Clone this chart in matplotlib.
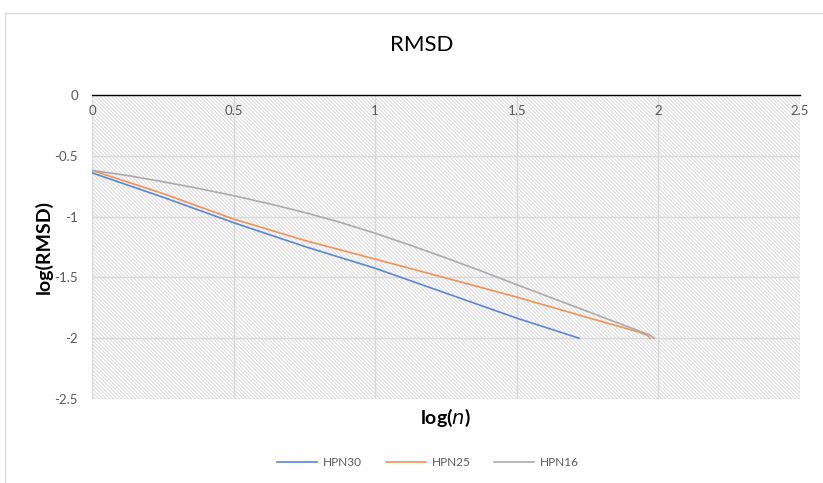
import matplotlib
matplotlib.use("Agg")
import matplotlib.pyplot as plt
from matplotlib.patches import Rectangle
from matplotlib.lines import Line2D

plt.rcParams['font.family'] = ['Lato', 'DejaVu Sans']

# Data
hpn30_x = [0.0, 0.25, 0.5, 0.75, 1.0, 1.25, 1.5, 1.72]
hpn30_y = [-0.64, -0.84, -1.05, -1.245, -1.425, -1.63, -1.835, -2.0]

hpn25_x = [0.0, 0.25, 0.5, 0.75, 1.0, 1.25, 1.5, 1.75, 1.935, 1.963, 1.97]
hpn25_y = [-0.62, -0.81, -1.02, -1.195, -1.35, -1.505, -1.662, -1.83, -1.952, -1.98, -2.0]

hpn16_x = [0.0, 0.125, 0.25, 0.375, 0.5, 0.625, 0.75, 0.875, 1.0, 1.125, 1.25,
           1.375, 1.5, 1.75, 1.97, 1.985]
hpn16_y = [-0.62, -0.662, -0.713, -0.768, -0.828, -0.894, -0.966, -1.046, -1.137,
           -1.236, -1.34, -1.448, -1.56, -1.78, -1.974, -2.0]

series_names = ['HPN30', 'HPN25', 'HPN16']
series_colors = ['#5B87D2', '#F09357', '#ABABAB']

x_ticks = [0, 0.5, 1, 1.5, 2, 2.5]
x_ticklabels = ['0', '0.5', '1', '1.5', '2', '2.5']
y_ticks = [0, -0.5, -1, -1.5, -2, -2.5]
y_ticklabels = ['0', '-0.5', '-1', '-1.5', '-2', '-2.5']

W, H = 823, 483
fig = plt.figure(figsize=(W / 100, H / 100), dpi=100)
ax = fig.add_axes([92 / W, 1 - 399 / H, (800 - 92) / W, (399 - 95) / H])

# outer chart border (top and left visible)
fig.add_artist(Line2D([5 / W, 1], [1 - 13 / H, 1 - 13 / H], color='#d9d9d9', lw=1))
fig.add_artist(Line2D([5 / W, 5 / W], [0, 1 - 13 / H], color='#d9d9d9', lw=1))

ax.set_xlim(0, 2.5)
ax.set_ylim(-2.5, 0)

# hatched plot area
plt.rcParams['hatch.linewidth'] = 1.0
bg = Rectangle((0, 0), 1, 1, transform=ax.transAxes, facecolor='white',
               edgecolor='#e2e2e2', hatch='\\' * 9, lw=0, zorder=0)
ax.add_patch(bg)

ax.set_xticks(x_ticks)
ax.set_xticklabels(x_ticklabels)
ax.set_yticks(y_ticks)
ax.set_yticklabels(y_ticklabels)
ax.grid(True, color='#d9d9d9', lw=1, zorder=1)
ax.set_axisbelow(False)

for s in ['top', 'right', 'left']:
    ax.spines[s].set_visible(False)
ax.spines['bottom'].set_position(('data', 0))
ax.spines['bottom'].set_color('#000000')
ax.spines['bottom'].set_linewidth(1.0)
ax.spines['bottom'].set_zorder(5)

ax.tick_params(axis='x', length=0, pad=7, labelsize=9.5, labelcolor='#595959')
ax.tick_params(axis='y', length=0, pad=10, labelsize=9.5, labelcolor='#595959')

for xs, ys, name, c in zip([hpn30_x, hpn25_x, hpn16_x],
                           [hpn30_y, hpn25_y, hpn16_y],
                           series_names, series_colors):
    ax.plot(xs, ys, color=c, lw=1.2, label=name, zorder=3,
            solid_joinstyle='round')

ax.set_xlabel(r'log($\bf{\it{n}}$)', fontsize=14, fontweight='bold', color='#000000')
ax.xaxis.set_label_coords(0.4986, -0.062)
ax.xaxis.label.set_verticalalignment('center')
ax.set_ylabel('log(RMSD)', fontsize=14, fontweight='bold', color='#000000')
ax.yaxis.set_label_coords(-0.068, 0.5)
ax.yaxis.label.set_verticalalignment('center')

fig.text(422 / W, 1 - 45 / H, 'RMSD', ha='center', va='center', fontsize=16, color='#000000')

fig.legend(loc='center', bbox_to_anchor=(428 / W, 1 - 463 / H), ncol=3, frameon=False,
           fontsize=8.5, labelcolor='#595959', handlelength=3.4, columnspacing=2.0,
           handletextpad=0.5)

fig.savefig('out.png', dpi=100)
